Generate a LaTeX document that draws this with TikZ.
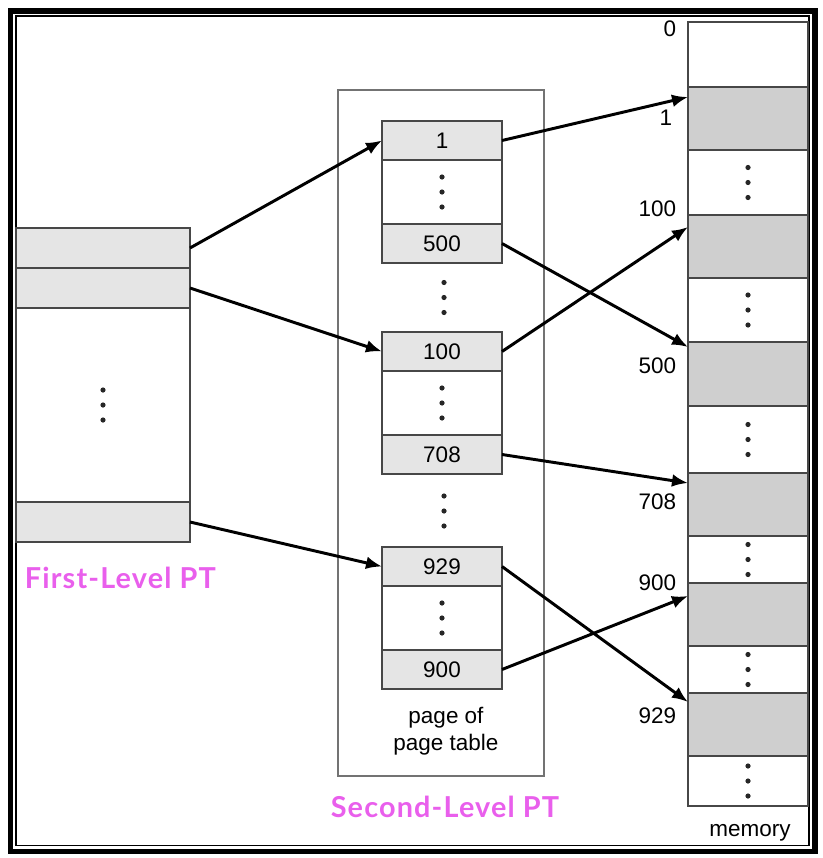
\documentclass[tikz,border=0pt]{standalone}
\usepackage{fontspec}
\setmainfont{Liberation Sans}
\newfontfamily\ptfont{Lato}[LetterSpace=4]
\usetikzlibrary{arrows.meta,positioning}
\definecolor{ptpink}{RGB}{233,95,236}

\begin{document}
\begin{tikzpicture}[
  cell/.style={draw=black!72, line width=1.2pt, inner sep=0pt, outer sep=0pt, minimum width=3cm, font=\fontsize{16}{19}\selectfont},
  num/.style={cell, fill=black!10, minimum height=0.975cm},
  gap/.style={cell, minimum height=1.6cm, dots},
  dots/.style={path picture={
      \foreach \d in {-0.375,0,0.375}
        \fill[black!85] ([yshift=\d cm]path picture bounding box.center) circle (0.065);}},
  fpt/.style={cell, minimum width=4.35cm, minimum height=1cm, fill=black!10},
  mem/.style={cell, minimum height=#1},
  memg/.style={mem=#1, fill=black!19},
  addr/.style={anchor=east, font=\fontsize{16}{19}\selectfont},
  ptr/.style={-{Latex[length=0.4cm, width=0.32cm]}, line width=2.1pt},
  title/.style={text=ptpink, font=\ptfont\bfseries\fontsize{20.5}{24}\selectfont}
]
\useasboundingbox (0,0) rectangle (20.55,-21.45);

\draw[line width=3.9pt] (0.2575,-0.27) rectangle (20.375,-21.2875);
\draw[line width=1.4pt] (0.3925,-0.4075) rectangle (20.2325,-21.1375);

\node[fpt] (f1) at (2.575,-6.2) {};
\node[fpt, below=0pt of f1] (f2) {};
\node[fpt, fill=white, minimum height=4.85cm, dots, below=0pt of f2] (f3) {};
\node[fpt, below=0pt of f3] (f4) {};
\node[title, anchor=base west] (firstlbl) at (0.5,-14.7) {First-Level PT};

\node[draw=black!55, line width=1.2pt, minimum width=5.15cm, minimum height=17.15cm] (slbox) at (11.025,-10.825) {};

\node[num, anchor=north] (g1a) at (11.05,-3.025) {1};
\node[gap, below=0pt of g1a] (g1b) {};
\node[num, below=0pt of g1b] (g1c) {500};
\node[dots, minimum width=0.5cm, minimum height=1.2cm] (gapA) at (11.1,-7.4375) {};
\node[num, anchor=north] (g2a) at (11.05,-8.3) {100};
\node[gap, below=0pt of g2a] (g2b) {};
\node[num, below=0pt of g2b] (g2c) {708};
\node[dots, minimum width=0.5cm, minimum height=1.2cm] (gapB) at (11.1,-12.775) {};
\node[num, anchor=north] (g3a) at (11.05,-13.675) {929};
\node[gap, below=0pt of g3a] (g3b) {};
\node[num, below=0pt of g3b] (g3c) {900};
\node[align=center, font=\fontsize{16}{19}\selectfont] (pgcap) at (11.15,-18.275) {page of\\page table};
\node[title, anchor=base] (secondlbl) at (11.125,-20.425) {Second-Level PT};

\node[mem=1.625cm, anchor=north] (m0) at (18.7,-0.55) {};
\node[memg=1.575cm, below=0pt of m0] (m1) {};
\node[mem=1.625cm, dots, below=0pt of m1] (m2) {};
\node[memg=1.575cm, below=0pt of m2] (m3) {};
\node[mem=1.6cm, dots, below=0pt of m3] (m4) {};
\node[memg=1.6cm, below=0pt of m4] (m5) {};
\node[mem=1.675cm, dots, below=0pt of m5] (m6) {};
\node[memg=1.575cm, below=0pt of m6] (m7) {};
\node[mem=1.175cm, dots, below=0pt of m7] (m8) {};
\node[memg=1.575cm, below=0pt of m8] (m9) {};
\node[mem=1.175cm, dots, below=0pt of m9] (m10) {};
\node[memg=1.575cm, below=0pt of m10] (m11) {};
\node[mem=1.25cm, dots, below=0pt of m11] (m12) {};
\node[font=\fontsize{16}{19}\selectfont] (memcap) at (18.75,-20.825) {memory};

\node[addr] (a0) at (17.025,-0.725) {0};
\node[addr] (a1) at (16.925,-2.95) {1};
\node[addr] (a100) at (17.025,-5.225) {100};
\node[addr] (a500) at (17.025,-9.15) {500};
\node[addr] (a708) at (17.025,-12.55) {708};
\node[addr] (a900) at (17.025,-14.575) {900};
\node[addr] (a929) at (17.025,-17.9) {929};

\draw[ptr] (f1.east) -- (g1a.west);
\draw[ptr] (f2.east) -- (g2a.west);
\draw[ptr] (f4.east) -- (g3a.west);
\draw[ptr] (g1a.east) -- ([yshift=-0.25cm]m1.north west);
\draw[ptr] (g1c.east) -- ([yshift=-0.125cm]m5.north west);
\draw[ptr] (g2a.east) -- ([yshift=-0.3cm]m3.north west);
\draw[ptr] (g2c.east) -- ([yshift=-0.25cm]m7.north west);
\draw[ptr] (g3a.east) -- ([yshift=-0.225cm]m11.north west);
\draw[ptr] (g3c.east) -- ([yshift=-0.325cm]m9.north west);

\end{tikzpicture}
\end{document}
